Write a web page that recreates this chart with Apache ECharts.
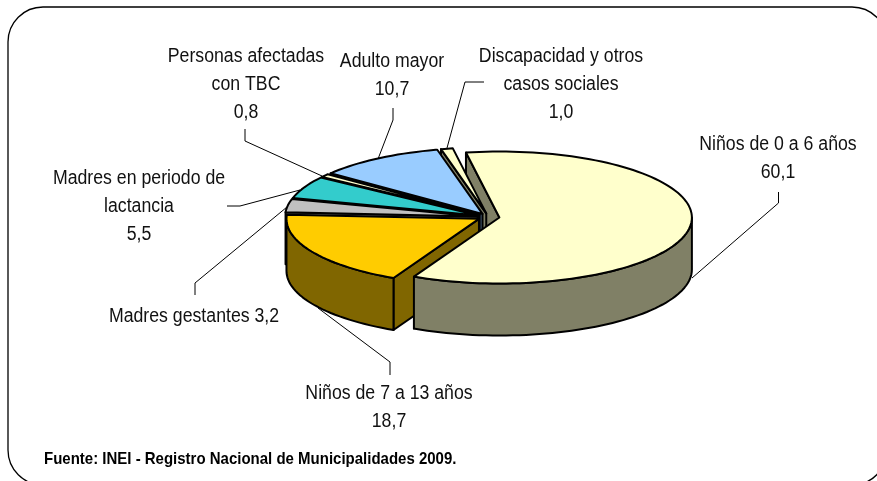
<!DOCTYPE html>
<html>
<head>
<meta charset="utf-8">
<style>html,body{margin:0;padding:0;background:#fff}#main{width:877px;height:481px}</style>
<script src="https://cdn.jsdelivr.net/npm/echarts@6/dist/echarts.min.js"></script>
</head>
<body>
<div id="main"></div>
<script>
// datos
var categories = ['Niños de 0 a 6 años', 'Niños de 7 a 13 años', 'Madres gestantes', 'Madres en periodo de lactancia', 'Personas afectadas con TBC', 'Adulto mayor', 'Discapacidad y otros casos sociales'];
var values = [60.1, 18.7, 3.2, 5.5, 0.8, 10.7, 1.0];
var topColors = ['#FFFFCC', '#FFCC00', '#C0C0C0', '#33CCCC', '#FFFFCC', '#99CCFF', '#FFFFCC'];
var sideColors = ['#808066', '#806600', '#606060', '#1A6666', '#808066', '#4D6680', '#808066'];
var source = 'Fuente: INEI - Registro Nacional de Municipalidades 2009.';

// geometria de la torta
var cx = 488.5, cy = 217, rx = 192.5, ry = 66, depth = 52, explode = 11, startAngle = -10;

var total = values.reduce(function (a, b) { return a + b; }, 0);
var slices = [];
var acc = 0;
values.forEach(function (v) {
    var t0 = startAngle + acc / total * 360;
    acc += v;
    slices.push([t0, startAngle + acc / total * 360]);
});

// orden de pintado: de atras hacia adelante
var paintOrder = [[0, 'wall'], [6, 'all'], [5, 'all'], [4, 'all'], [3, 'all'], [2, 'all'], [1, 'all'], [0, 'top']];

function rad(d) { return d * Math.PI / 180; }

function apexOf(i) {
    var m = rad((slices[i][0] + slices[i][1]) / 2);
    return [cx + explode * Math.sin(m), cy - explode * 0.34 * Math.cos(m)];
}

function rimPoint(i, t) {
    var a = apexOf(i);
    return [a[0] + rx * Math.sin(rad(t)), a[1] - ry * Math.cos(rad(t))];
}

function down(p) { return [p[0], p[1] + depth]; }

function poly(points, fill) {
    return {
        type: 'polygon',
        shape: { points: points },
        style: { fill: fill, stroke: '#000', lineWidth: 2, lineJoin: 'round' }
    };
}

// solo la pared inicial da hacia el espectador en este angulo de giro
function wall(i, fill) {
    var a = apexOf(i), p = rimPoint(i, slices[i][0]);
    return poly([a, p, down(p), down(a)], fill);
}

function rim(i, fill) {
    var from = Math.max(slices[i][0], 90), to = Math.min(slices[i][1], 270);
    if (from >= to) return null;
    var upper = [], lower = [];
    for (var t = from; t <= to; t += 2) upper.push(rimPoint(i, t));
    upper.push(rimPoint(i, to));
    upper.forEach(function (p) { lower.unshift(down(p)); });
    return poly(upper.concat(lower), fill);
}

function face(i, fill) {
    var pts = [apexOf(i)];
    for (var t = slices[i][0]; t < slices[i][1]; t += 2) pts.push(rimPoint(i, t));
    pts.push(rimPoint(i, slices[i][1]));
    return poly(pts, fill);
}

function renderSlice(params) {
    var step = paintOrder[params.dataIndex];
    var i = step[0], part = step[1];
    var children = [];
    if (part !== 'top') children.push(wall(i, sideColors[i]));
    if (part !== 'wall') {
        var r = rim(i, sideColors[i]);
        if (r) children.push(r);
        children.push(face(i, topColors[i]));
    }
    return { type: 'group', children: children };
}

function fmt(v) { return v.toFixed(1).replace('.', ','); }

// la fuente del original es alta y angosta
var labelFont = '20px "Liberation Sans", Arial, sans-serif';

function label(x, y, text) {
    return {
        type: 'text', x: x, y: y, silent: true, scaleX: 0.885,
        style: { text: text, font: labelFont, fill: '#111', align: 'center', verticalAlign: 'middle', lineHeight: 28 }
    };
}

function leader(points) {
    return {
        type: 'polyline', silent: true,
        shape: { points: points },
        style: { fill: null, stroke: '#000', lineWidth: 1 }
    };
}

var graphics = [
    { type: 'rect', silent: true, shape: { x: 8, y: 7, width: 879, height: 478, r: 35 }, style: { fill: '#fff', stroke: '#000', lineWidth: 1.3 }, z: -1 },
    leader([[778.5, 192], [778.5, 203], [692, 278]]),
    leader([[390, 375], [390, 362], [318, 308]]),
    leader([[195, 295], [195, 283], [287, 207]]),
    leader([[227, 206], [240, 206], [300, 190]]),
    leader([[245, 129], [245, 141], [322, 176]]),
    leader([[393, 108], [393, 120], [378, 159]]),
    leader([[484, 82], [465, 82], [447, 148]]),
    label(778, 158, 'Niños de 0 a 6 años\n' + fmt(values[0])),
    label(389, 407, 'Niños de 7 a 13 años\n' + fmt(values[1])),
    label(194, 316, 'Madres gestantes ' + fmt(values[2])),
    label(139, 206, 'Madres en periodo de\nlactancia\n' + fmt(values[3])),
    label(246, 84, 'Personas afectadas\ncon TBC\n' + fmt(values[4])),
    label(392, 75, 'Adulto mayor\n' + fmt(values[5])),
    label(561, 84, 'Discapacidad y otros\ncasos sociales\n' + fmt(values[6])),
    {
        type: 'text', x: 44, y: 459, silent: true, scaleX: 0.882,
        style: { text: source, font: 'bold 17px "Liberation Sans", Arial, sans-serif', fill: '#000', verticalAlign: 'middle' }
    }
];

var chart = echarts.init(document.getElementById('main'), null, { renderer: 'canvas' });
chart.setOption({
    animation: false,
    backgroundColor: '#fff',
    graphic: graphics,
    series: [{
        type: 'custom',
        coordinateSystem: 'none',
        renderItem: renderSlice,
        data: paintOrder.map(function (s, k) { return [k, values[s[0]]]; }),
        silent: true,
        z: 5
    }]
});
</script>
</body>
</html>
